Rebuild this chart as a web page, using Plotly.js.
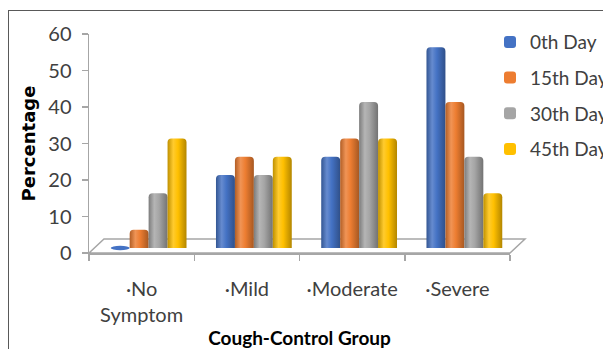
<!DOCTYPE html>
<html>
<head>
<meta charset="utf-8">
<script src="https://cdn.plot.ly/plotly-3.0.1.min.js"></script>
<style>
  html, body { margin: 0; padding: 0; background: #ffffff; overflow: hidden; }
  #chart { width: 603px; height: 349px; position: absolute; left: 0; top: 0; }
  #frame { position: absolute; left: 8px; top: 10px; width: 800px; height: 600px;
           border: 1px solid #595959; pointer-events: none; }
</style>
</head>
<body>
<div id="chart"></div>
<div id="frame"></div>
<script>
// ---- data ----
const categories = ['No Symptom', 'Mild', 'Moderate', 'Severe'];
const tickLabels = ['\u00B7No<br>Symptom', '\u00B7Mild', '\u00B7Moderate', '\u00B7Severe'];
const seriesNames = ['0th Day', '15th Day', '30th Day', '45th Day'];
const day0  = [0, 20, 25, 55];
const day15 = [5, 25, 30, 40];
const day30 = [15, 20, 40, 25];
const day45 = [30, 25, 30, 15];
const yTicks = [0, 10, 20, 30, 40, 50, 60];

// ---- styling ----
const seriesValues = [day0, day15, day30, day45];
const colors = ['#4472C4', '#ED7D31', '#A5A5A5', '#FFC000'];
const labelFont = 'Lato, Carlito, Calibri, sans-serif';
const bargap = 0.28;
const barW = (1 - bargap) / 4;
const depthX = 0.0665;   // depth shift of the bar plane (category units)
const depthY = 1.38;     // depth shift of the bar plane (value units)

const traces = seriesValues.map((vals, s) => ({
  type: 'bar',
  name: seriesNames[s],
  x: categories,
  y: vals,
  xaxis: 'x',
  yaxis: 'y',
  legendgroup: 'g' + s,
  marker: { color: colors[s], cornerradius: 4, line: { width: 0 } },
  hoverinfo: 'x+y+name'
}));
// empty carrier trace so the visible (unshifted) axes get drawn
traces.push({ type: 'scatter', mode: 'markers', x: [], y: [], xaxis: 'x2', yaxis: 'y2',
              showlegend: false, hoverinfo: 'skip' });

const shapes = [];
shapes.push({
  type: 'path', xref: 'paper', yref: 'paper', layer: 'below',
  path: 'M 0 0 L 0.0356 0.0639 L 1.0356 0.0639 L 1 0 Z',
  fillcolor: '#ffffff', line: { color: '#A6A6A6', width: 1.5 }
});
// flat ellipses for zero-valued bars (cylinder base seen from above)
seriesValues.forEach((vals, s) => {
  vals.forEach((v, i) => {
    if (v === 0) {
      const x0 = i - 2 * barW + s * barW;
      shapes.push({
        type: 'circle', xref: 'x', yref: 'y', layer: 'above',
        x0: x0, x1: x0 + barW, y0: -0.6, y1: 0.6,
        fillcolor: colors[s], line: { width: 0 }
      });
    }
  });
});

const layout = {
  width: 603, height: 349,
  margin: { l: 89, r: 93, t: 34, b: 96, pad: 0, autoexpand: false },
  paper_bgcolor: '#ffffff', plot_bgcolor: 'rgba(0,0,0,0)',
  showlegend: true,
  barmode: 'group', bargap: bargap, bargroupgap: 0,
  font: { family: labelFont, size: 20, color: '#404040' },
  xaxis: {
    type: 'category', categoryorder: 'array', categoryarray: categories,
    range: [-0.5 - depthX, 3.5 - depthX],
    visible: false, fixedrange: true
  },
  yaxis: {
    range: [-depthY, 60 - depthY],
    visible: false, fixedrange: true
  },
  xaxis2: {
    overlaying: 'x', anchor: 'y2', type: 'linear',
    range: [-0.5, 3.5],
    tickmode: 'array', tickvals: [0, 1, 2, 3], ticktext: tickLabels,
    ticks: '', ticklabelstandoff: 17,
    showline: true, linecolor: '#A6A6A6', linewidth: 1.5,
    showgrid: false, zeroline: false,
    minor: { tickmode: 'array', tickvals: [-0.5, 0.5, 1.5, 2.5, 3.5],
             ticks: 'outside', ticklen: 6, tickcolor: '#A6A6A6', tickwidth: 1.5, showgrid: false },
    tickfont: { family: labelFont, size: 20, color: '#404040' },
    title: { text: 'Cough-Control Group', standoff: 13,
             font: { family: labelFont, size: 19, color: '#000000', weight: 'bold' } },
    fixedrange: true
  },
  yaxis2: {
    overlaying: 'y', anchor: 'x2', side: 'left',
    range: [0, 60], tickmode: 'array', tickvals: yTicks,
    ticks: 'outside', ticklen: 6, tickcolor: '#A6A6A6', tickwidth: 1.5,
    ticklabelstandoff: 6,
    showline: true, linecolor: '#A6A6A6', linewidth: 1.5,
    showgrid: false, zeroline: false,
    tickfont: { family: labelFont, size: 20, color: '#404040' },
    title: { text: 'Percentage', standoff: 8,
             font: { family: 'DejaVu Sans, sans-serif', size: 18, color: '#000000', weight: 'bold' } },
    fixedrange: true
  },
  legend: {
    x: 0.9525, xanchor: 'left', y: 1.05, yanchor: 'top',
    bgcolor: 'rgba(0,0,0,0)', borderwidth: 0,
    font: { family: labelFont, size: 19, color: '#404040' },
    tracegroupgap: 8, traceorder: 'grouped'
  },
  shapes: shapes
};

function shade(hex, f) {
  const n = parseInt(hex.slice(1), 16);
  let r = (n >> 16) & 255, g = (n >> 8) & 255, b = n & 255;
  if (f >= 0) { r += (255 - r) * f; g += (255 - g) * f; b += (255 - b) * f; }
  else { r *= (1 + f); g *= (1 + f); b *= (1 + f); }
  return 'rgb(' + Math.round(r) + ',' + Math.round(g) + ',' + Math.round(b) + ')';
}

Plotly.newPlot('chart', traces, layout, { displayModeBar: false, staticPlot: true }).then(gd => {
  const svg = gd.querySelector('.main-svg');
  const defs = svg.querySelector('defs');
  const ns = 'http://www.w3.org/2000/svg';
  colors.forEach((c, s) => {
    const lg = document.createElementNS(ns, 'linearGradient');
    lg.setAttribute('id', 'cyl' + s);
    lg.setAttribute('x1', '0'); lg.setAttribute('x2', '1');
    lg.setAttribute('y1', '0'); lg.setAttribute('y2', '0');
    [[0, shade(c, -0.25)], [0.3, shade(c, 0.18)], [0.55, c], [1, shade(c, -0.3)]].forEach(([o, col]) => {
      const st = document.createElementNS(ns, 'stop');
      st.setAttribute('offset', o);
      st.setAttribute('stop-color', col);
      lg.appendChild(st);
    });
    defs.appendChild(lg);
  });
  gd.querySelectorAll('.barlayer .trace').forEach((tr, s) => {
    tr.querySelectorAll('.point path').forEach(p => { p.style.fill = 'url(#cyl' + s + ')'; });
  });
});
</script>
</body>
</html>
